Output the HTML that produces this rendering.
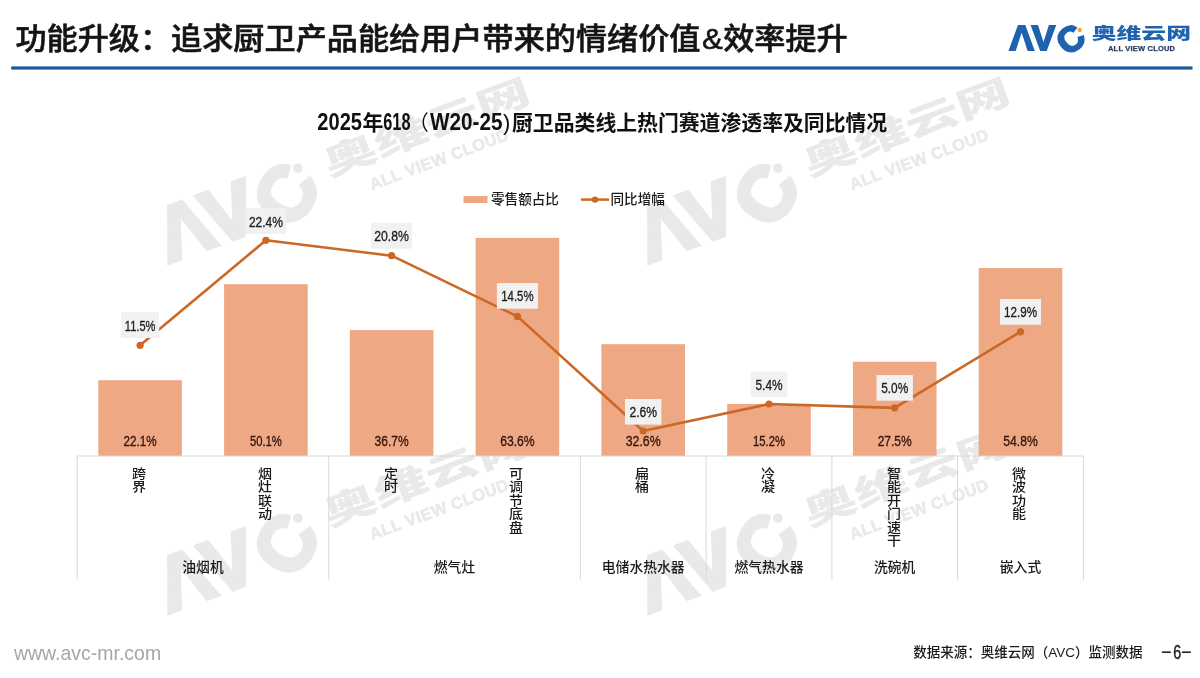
<!DOCTYPE html>
<html lang="zh-CN"><head><meta charset="utf-8"><title>功能升级</title>
<style>
html,body{margin:0;padding:0;background:#fff;}
body{width:1200px;height:678px;position:relative;overflow:hidden;font-family:"Liberation Sans","Noto Sans CJK SC",sans-serif;color:#111;}
.title{position:absolute;left:15.4px;top:16.5px;font-size:31.15px;font-weight:500;-webkit-text-stroke:.6px #141414;line-height:44px;white-space:nowrap;letter-spacing:0;color:#141414;transform:scaleY(.95);transform-origin:0 36px;}
.foot-l{position:absolute;left:14px;top:641px;font-size:21px;line-height:24px;color:#a6a6a6;white-space:nowrap;transform:scaleX(.927);transform-origin:0 0;}
.foot-r{position:absolute;left:913.3px;top:642.4px;font-size:13.5px;line-height:22px;color:#1a1a1a;font-weight:500;white-space:nowrap;}
.pg{position:absolute;left:1161.4px;top:639.2px;font-size:19.8px;line-height:26px;color:#222;white-space:nowrap;}
.pg i{font-style:normal;display:inline-block;width:10.7px;text-align:center;transform:scaleX(1.85);position:relative;top:-1.6px;}
.pg b{font-weight:normal;display:inline-block;width:8.5px;text-align:center;transform:scaleX(.72);-webkit-text-stroke:.5px #222;}
.vl{position:absolute;top:466.5px;width:14px;font-size:12.9px;line-height:13.6px;text-align:center;word-break:break-all;color:#1a1a1a;font-weight:500;transform:scaleX(1.09);}
.logo{position:absolute;left:1008px;top:25px;overflow:visible;}
</style></head><body>
<svg width="1200" height="678" viewBox="0 0 1200 678" style="position:absolute;left:0;top:0">
<defs>
<mask id="am" maskUnits="userSpaceOnUse" x="-6" y="-12" width="100" height="50"><rect x="-6" y="-12" width="100" height="50" fill="#fff"/><polygon points="9.57,20.1 11.6,13.85 15.67,13.85 17.7,20.1" fill="#000"/></mask>
<g id="logo">
<circle cx="71.7" cy="4.9" r="2.2" style="fill:var(--dot,currentColor)"/>
<text x="1" y="25" mask="url(#am)" font-family="'Liberation Sans',sans-serif" font-weight="bold" font-size="35" stroke="currentColor" stroke-width="2" fill="currentColor">AV<tspan rotate="-38" dx="13" dy="6.5">C</tspan></text>
<text x="83.7" y="13.6" font-family="'Liberation Sans','Noto Sans CJK SC',sans-serif" font-weight="900" font-size="16.2" fill="currentColor" textLength="99.3" lengthAdjust="spacingAndGlyphs">奥维云网</text>
<text x="100" y="26.1" font-family="'Liberation Sans',sans-serif" font-weight="bold" font-size="7.5" style="fill:var(--sub,currentColor);stroke:var(--sub,currentColor)" stroke-width="0.25" textLength="67" lengthAdjust="spacing">ALL VIEW CLOUD</text>
</g>
</defs>
<g id="wms">
<g transform="translate(146.8,212.6) rotate(-20.3) scale(2.19)" color="#e9e9e9"><use href="#logo"/></g>
<g transform="translate(626.8,212.6) rotate(-20.3) scale(2.19)" color="#e9e9e9"><use href="#logo"/></g>
<g transform="translate(146.8,562.6) rotate(-20.3) scale(2.19)" color="#e9e9e9"><use href="#logo"/></g>
<g transform="translate(626.8,562.6) rotate(-20.3) scale(2.19)" color="#e9e9e9"><use href="#logo"/></g>
</g>
<rect x="11.2" y="66.4" width="1181.3" height="3.2" fill="#1d5aa3"/>
<rect x="98.3" y="380.2" width="83.6" height="75.8" fill="#efa884"/>
<rect x="224.1" y="284.2" width="83.6" height="171.8" fill="#efa884"/>
<rect x="349.8" y="330.1" width="83.6" height="125.9" fill="#efa884"/>
<rect x="475.6" y="237.9" width="83.6" height="218.1" fill="#efa884"/>
<rect x="601.4" y="344.2" width="83.6" height="111.8" fill="#efa884"/>
<rect x="727.2" y="403.9" width="83.6" height="52.1" fill="#efa884"/>
<rect x="852.9" y="361.7" width="83.6" height="94.3" fill="#efa884"/>
<rect x="978.7" y="268.0" width="83.6" height="188.0" fill="#efa884"/>
<g stroke="#d9d9d9" stroke-width="1" fill="none">
<line x1="77.2" y1="456.0" x2="1083.4" y2="456.0"/>
<line x1="77.2" y1="456.0" x2="77.2" y2="580"/>
<line x1="328.8" y1="456.0" x2="328.8" y2="580"/>
<line x1="580.3" y1="456.0" x2="580.3" y2="580"/>
<line x1="706.1" y1="456.0" x2="706.1" y2="580"/>
<line x1="831.9" y1="456.0" x2="831.9" y2="580"/>
<line x1="957.6" y1="456.0" x2="957.6" y2="580"/>
<line x1="1083.4" y1="456.0" x2="1083.4" y2="580"/>
</g>
<g font-family="'Liberation Sans',sans-serif" font-size="15.3" fill="#33150e" stroke="#33150e" stroke-width="0.35" text-anchor="middle">
<text x="140.1" y="446" textLength="33" lengthAdjust="spacingAndGlyphs">22.1%</text>
<text x="265.9" y="446" textLength="32" lengthAdjust="spacingAndGlyphs">50.1%</text>
<text x="391.6" y="446" textLength="34" lengthAdjust="spacingAndGlyphs">36.7%</text>
<text x="517.4" y="446" textLength="34.5" lengthAdjust="spacingAndGlyphs">63.6%</text>
<text x="643.2" y="446" textLength="35" lengthAdjust="spacingAndGlyphs">32.6%</text>
<text x="769.0" y="446" textLength="32" lengthAdjust="spacingAndGlyphs">15.2%</text>
<text x="894.7" y="446" textLength="34" lengthAdjust="spacingAndGlyphs">27.5%</text>
<text x="1020.5" y="446" textLength="34.5" lengthAdjust="spacingAndGlyphs">54.8%</text>
</g>
<polyline points="140.1,345.3 265.9,240.3 391.6,255.7 517.4,316.4 643.2,431.0 769.0,404.0 894.7,407.9 1020.5,331.8" fill="none" stroke="#cb6826" stroke-width="2.6" stroke-linejoin="round"/>
<circle cx="140.1" cy="345.3" r="3.6" fill="#cb6826"/>
<circle cx="265.9" cy="240.3" r="3.6" fill="#cb6826"/>
<circle cx="391.6" cy="255.7" r="3.6" fill="#cb6826"/>
<circle cx="517.4" cy="316.4" r="3.6" fill="#cb6826"/>
<circle cx="643.2" cy="431.0" r="3.6" fill="#cb6826"/>
<circle cx="769.0" cy="404.0" r="3.6" fill="#cb6826"/>
<circle cx="894.7" cy="407.9" r="3.6" fill="#cb6826"/>
<circle cx="1020.5" cy="331.8" r="3.6" fill="#cb6826"/>
<g font-family="'Liberation Sans',sans-serif" font-size="15.3" fill="#1e1e1e" stroke="#1e1e1e" stroke-width="0.35" text-anchor="middle">
<rect x="121.1" y="312.3" width="38" height="25.6" fill="#f1f1f1" stroke="none"/>
<text x="140.1" y="330.5" textLength="30.6" lengthAdjust="spacingAndGlyphs">11.5%</text>
<rect x="245.4" y="208.3" width="41" height="25.6" fill="#f1f1f1" stroke="none"/>
<text x="265.9" y="226.5" textLength="34" lengthAdjust="spacingAndGlyphs">22.4%</text>
<rect x="371.1" y="223.1" width="41" height="25.6" fill="#f1f1f1" stroke="none"/>
<text x="391.6" y="241.3" textLength="34.6" lengthAdjust="spacingAndGlyphs">20.8%</text>
<rect x="496.9" y="283.1" width="41" height="25.6" fill="#f1f1f1" stroke="none"/>
<text x="517.4" y="301.3" textLength="32.3" lengthAdjust="spacingAndGlyphs">14.5%</text>
<rect x="625.0" y="399.0" width="36.4" height="25.6" fill="#f1f1f1" stroke="none"/>
<text x="643.2" y="417.2" textLength="27.6" lengthAdjust="spacingAndGlyphs">2.6%</text>
<rect x="750.8" y="371.5" width="36.4" height="25.6" fill="#f1f1f1" stroke="none"/>
<text x="769.0" y="389.7" textLength="27" lengthAdjust="spacingAndGlyphs">5.4%</text>
<rect x="876.5" y="375.1" width="36.4" height="25.6" fill="#f1f1f1" stroke="none"/>
<text x="894.7" y="393.3" textLength="27" lengthAdjust="spacingAndGlyphs">5.0%</text>
<rect x="1000.0" y="299.1" width="41" height="25.6" fill="#f1f1f1" stroke="none"/>
<text x="1020.5" y="317.3" textLength="33" lengthAdjust="spacingAndGlyphs">12.9%</text>
</g>
<g font-family="'Liberation Sans','Noto Sans CJK SC',sans-serif" font-size="13.8" fill="#1a1a1a" text-anchor="middle">
<text x="203.0" y="571.6" font-weight="500">油烟机</text>
<text x="454.5" y="571.6" font-weight="500">燃气灶</text>
<text x="643.2" y="571.6" font-weight="500">电储水热水器</text>
<text x="769.0" y="571.6" font-weight="500">燃气热水器</text>
<text x="894.7" y="571.6" font-weight="500">洗碗机</text>
<text x="1020.5" y="571.6" font-weight="500">嵌入式</text>
</g>
<rect x="463.5" y="196" width="24" height="7" fill="#efa884"/>
<text x="491" y="204" font-family="'Liberation Sans','Noto Sans CJK SC',sans-serif" font-size="13.6" font-weight="500" fill="#1a1a1a">零售额占比</text>
<line x1="581" y1="199.6" x2="609" y2="199.6" stroke="#cb6826" stroke-width="2.5"/>
<circle cx="595" cy="199.6" r="3.2" fill="#cb6826"/>
<text x="610.5" y="204" font-family="'Liberation Sans','Noto Sans CJK SC',sans-serif" font-size="13.6" font-weight="500" fill="#1a1a1a">同比增幅</text>
<g font-family="'Liberation Sans','Noto Sans CJK SC',sans-serif" font-size="20.85" font-weight="bold" fill="#111">
<text><tspan x="317.3" y="130" font-size="23" textLength="44.7" lengthAdjust="spacingAndGlyphs">2025</tspan><tspan x="362.5" y="129.5">年</tspan><tspan x="383.3" y="130" font-size="23" textLength="27.2" lengthAdjust="spacingAndGlyphs">618</tspan><tspan x="408" y="129.5" font-weight="normal">（</tspan><tspan x="430" y="130" font-size="23" textLength="72.5" lengthAdjust="spacingAndGlyphs">W20-25</tspan><tspan x="503" y="130" font-size="22" font-weight="normal">)</tspan><tspan x="512" y="129.5">厨卫品类线上热门赛道渗透率及同比情况</tspan></text>
</g>
</svg>
<div class="vl" style="left:132.0px">跨界</div>
<div class="vl" style="left:257.8px">烟灶联动</div>
<div class="vl" style="left:383.5px">定时</div>
<div class="vl" style="left:509.3px">可调节底盘</div>
<div class="vl" style="left:635.1px">扁桶</div>
<div class="vl" style="left:760.9px">冷凝</div>
<div class="vl" style="left:886.6px">智能开门速干</div>
<div class="vl" style="left:1012.4px">微波功能</div>
<div class="title">功能升级：追求厨卫产品能给用户带来的情绪价值<span style="margin:0 .3px 0 1.6px">&amp;</span>效率提升</div>
<svg class="logo" width="186" height="34" viewBox="0 0 186 34"><g color="#1f62ae" style="--sub:#2a3b63;--dot:#f2a23a"><use href="#logo"/></g></svg>
<div class="foot-l">www.avc-mr.com</div>
<div class="foot-r">数据来源：奥维云网（AVC）监测数据</div>
<div class="pg"><i>-</i><b>6</b><i>-</i></div>
</body></html>
